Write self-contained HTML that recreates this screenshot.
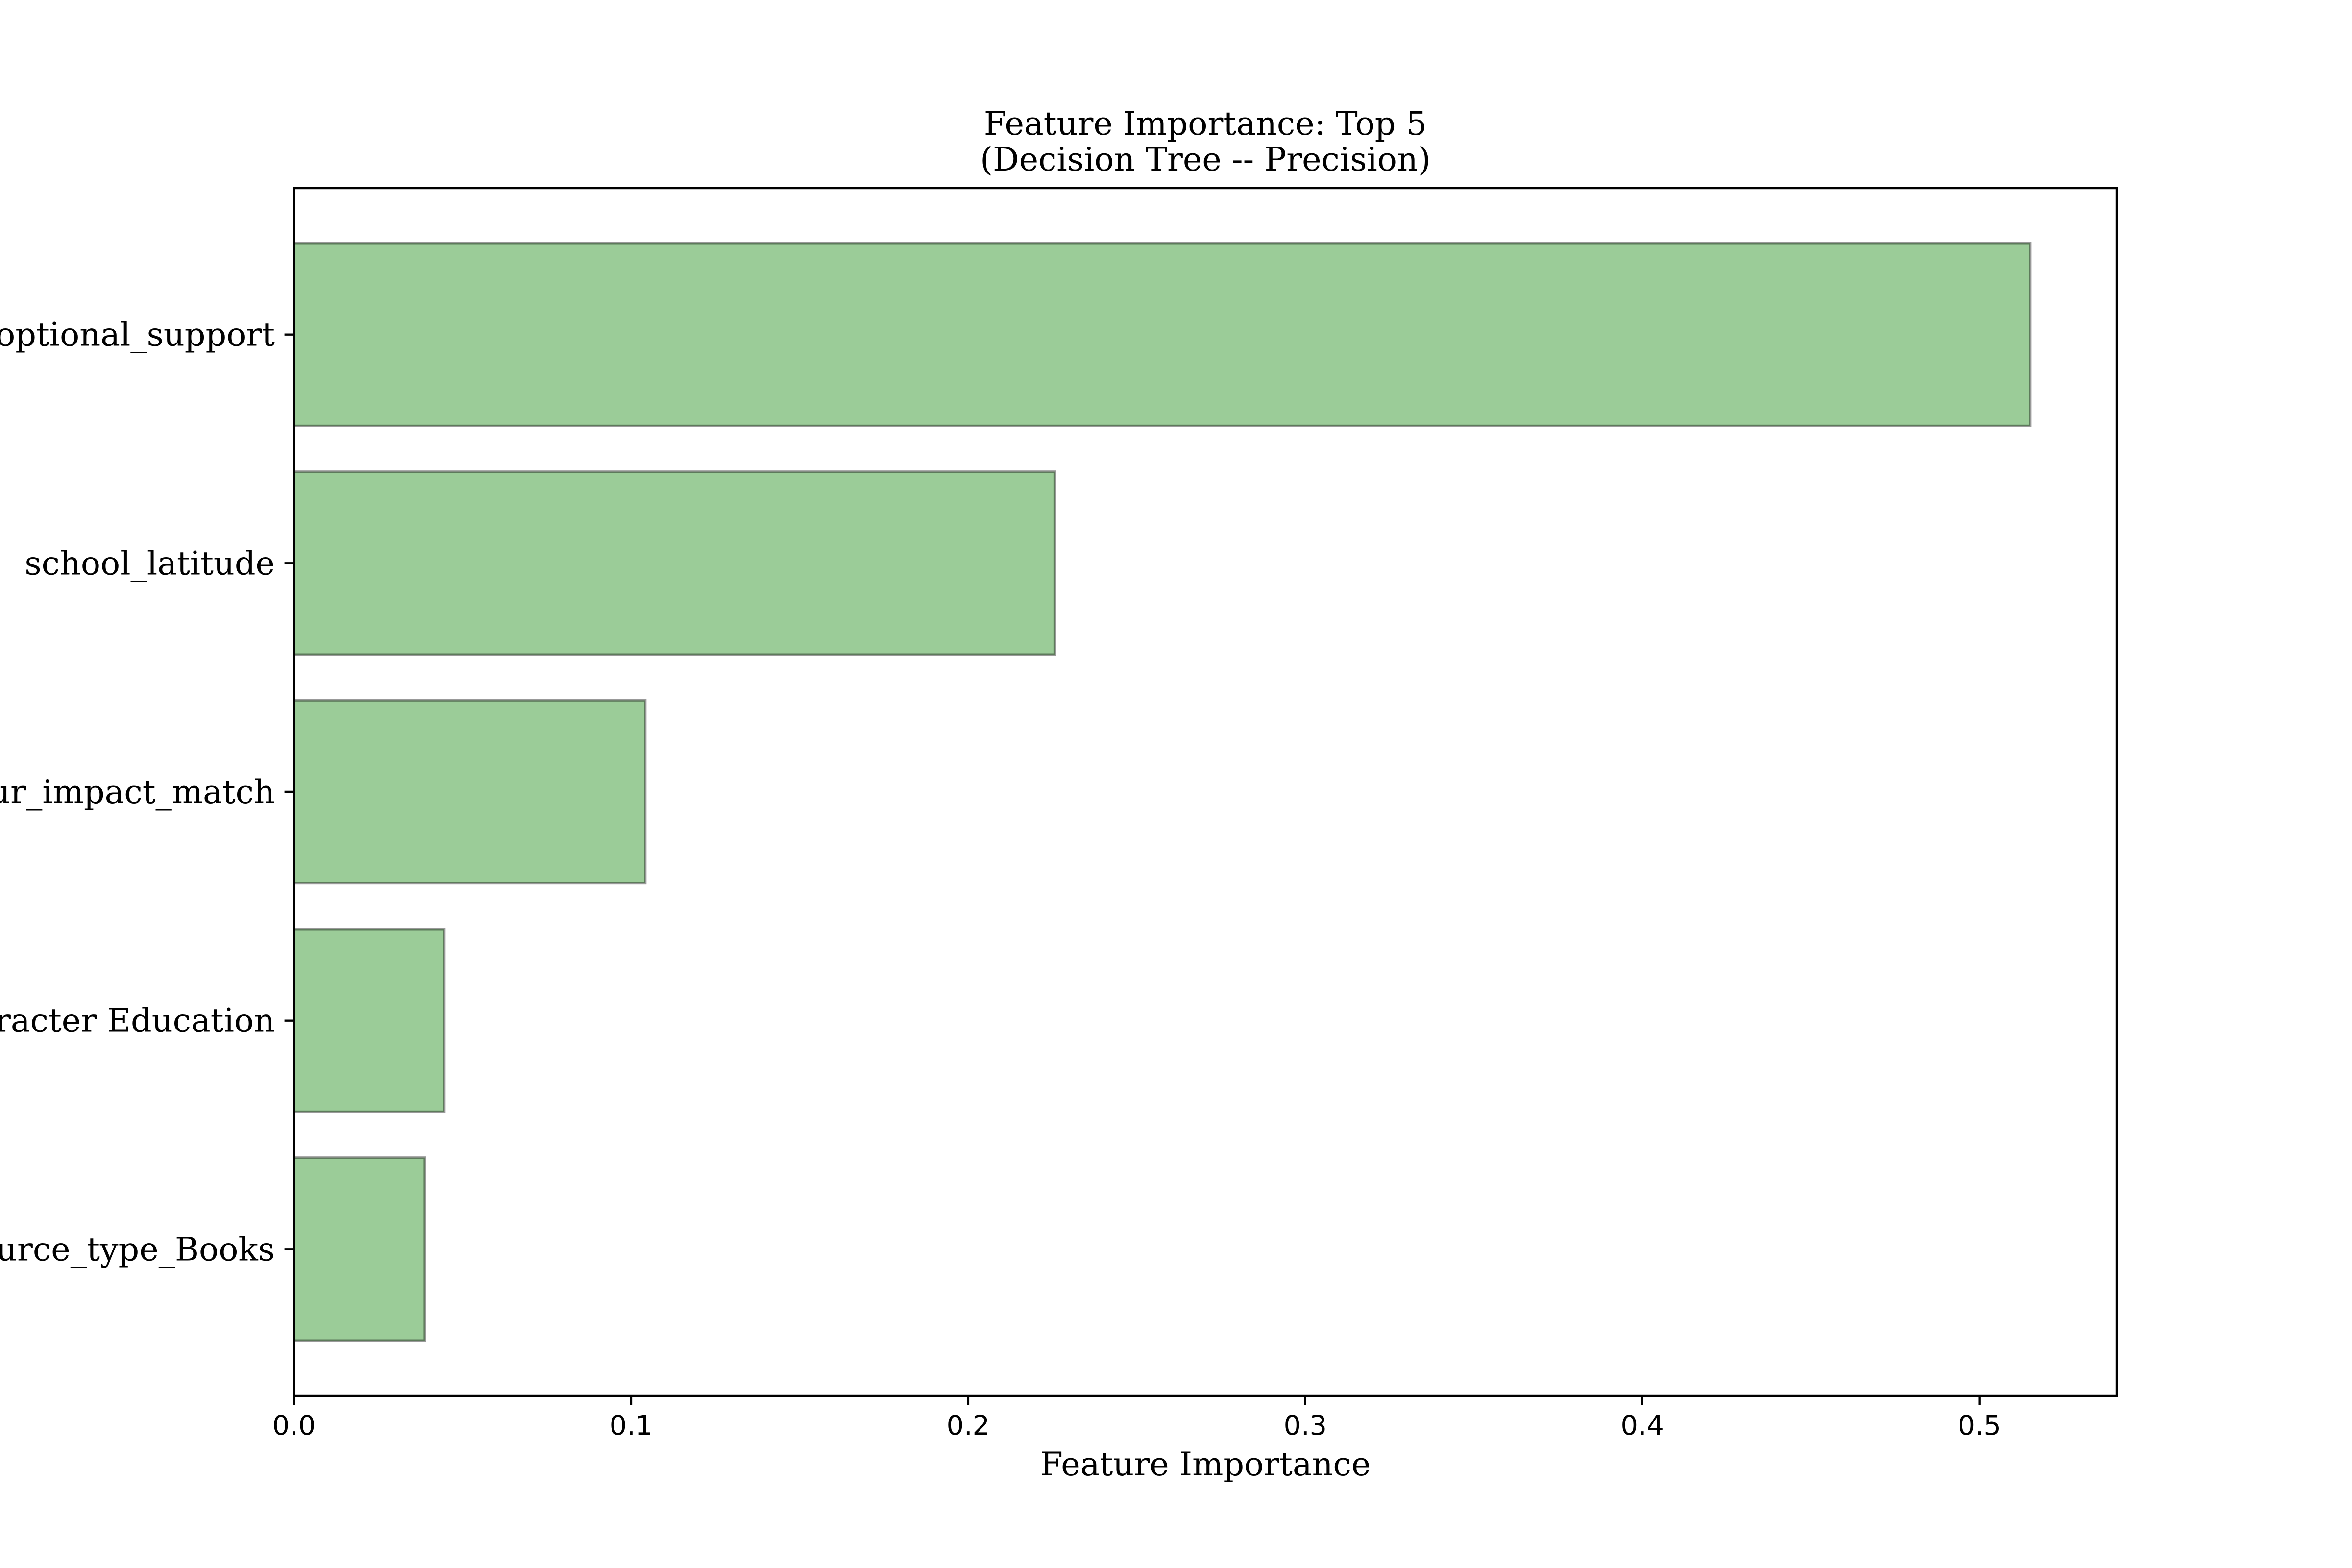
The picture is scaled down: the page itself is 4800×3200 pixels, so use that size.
<!DOCTYPE html>
<html><head><meta charset="utf-8"><style>
html,body{margin:0;padding:0;background:#fff;}
svg{display:block;}
text{fill:#000;}
.serif{font-family:"DejaVu Serif","Liberation Serif",serif;}
.sans{font-family:"DejaVu Sans","Liberation Sans",sans-serif;}
</style></head>
<body>
<svg id="chart" width="4800" height="3200" viewBox="0 0 4800 3200" xmlns="http://www.w3.org/2000/svg">
<rect x="0" y="0" width="4800" height="3200" fill="#fff"/>
<text class="serif" x="2460" y="275" font-size="66.7" text-anchor="middle">Feature Importance: Top 5</text>
<text class="serif" x="2460" y="348" font-size="66.7" text-anchor="middle">(Decision Tree -- Precision)</text>
<g id="bars"></g>
<g id="yticks"></g>
<g id="xticks"></g>
<rect x="600" y="384" width="3720" height="2464" fill="none" stroke="#000" stroke-width="4.4"/>
<text class="serif" x="2460" y="3011" font-size="66.7" text-anchor="middle">Feature Importance</text>
</svg>
<script>
const categories = ["optional_support", "school_latitude", "ur_impact_match", "racter Education", "urce_type_Books"];
const values = [0.515, 0.2258, 0.1042, 0.0446, 0.0388];
const xTickValues = [0, 0.1, 0.2, 0.3, 0.4, 0.5];
const xTickLabels = ["0.0", "0.1", "0.2", "0.3", "0.4", "0.5"];

const NS = "http://www.w3.org/2000/svg";
const L = 600, R = 4320, T = 384, B = 2848;
const xmax = Math.max(...values) * 1.05;
function xs(v){ return L + (v / xmax) * (R - L); }
const n = categories.length;
const ymin = -0.4 - 0.05 * (n - 1 + 0.8), ymax = (n - 1) + 0.4 + 0.05 * (n - 1 + 0.8);
// index 0 at top
function ys(i){ const pos = (n - 1 - i); return B - (pos - ymin) / (ymax - ymin) * (B - T); }
const unit = (B - T) / (ymax - ymin);

const bars = document.getElementById('bars');
const yt = document.getElementById('yticks');
const xt = document.getElementById('xticks');
categories.forEach((c, i) => {
  const cy = ys(i);
  const r = document.createElementNS(NS, 'rect');
  r.setAttribute('x', xs(0));
  r.setAttribute('y', cy - 0.4 * unit);
  r.setAttribute('width', xs(values[i]) - xs(0));
  r.setAttribute('height', 0.8 * unit);
  r.setAttribute('fill', '#9bcc98');
  r.setAttribute('stroke', 'rgba(0,0,0,0.4)');
  r.setAttribute('stroke-width', '5');
  
  
  bars.appendChild(r);
  const tk = document.createElementNS(NS, 'line');
  tk.setAttribute('x1', L - 19.4); tk.setAttribute('x2', L);
  tk.setAttribute('y1', cy); tk.setAttribute('y2', cy);
  tk.setAttribute('stroke', '#000'); tk.setAttribute('stroke-width', '4.4');
  
  
  yt.appendChild(tk);
  const tx = document.createElementNS(NS, 'text');
  tx.setAttribute('class', 'serif');
  tx.setAttribute('x', L - 39);
  tx.setAttribute('y', cy + 23);
  tx.setAttribute('font-size', '66.7');
  tx.setAttribute('text-anchor', 'end');
  tx.textContent = c;
  
  
  yt.appendChild(tx);
});
xTickValues.forEach((v, i) => {
  const x = xs(v);
  const tk = document.createElementNS(NS, 'line');
  tk.setAttribute('x1', x); tk.setAttribute('x2', x);
  tk.setAttribute('y1', B); tk.setAttribute('y2', B + 19.4);
  tk.setAttribute('stroke', '#000'); tk.setAttribute('stroke-width', '4.4');
  
  
  xt.appendChild(tk);
  const tx = document.createElementNS(NS, 'text');
  tx.setAttribute('class', 'sans');
  tx.setAttribute('x', x);
  tx.setAttribute('y', B + 80);
  tx.setAttribute('font-size', '55.6');
  tx.setAttribute('text-anchor', 'middle');
  tx.textContent = xTickLabels[i];
  
  
  xt.appendChild(tx);
});
</script>
</body></html>
